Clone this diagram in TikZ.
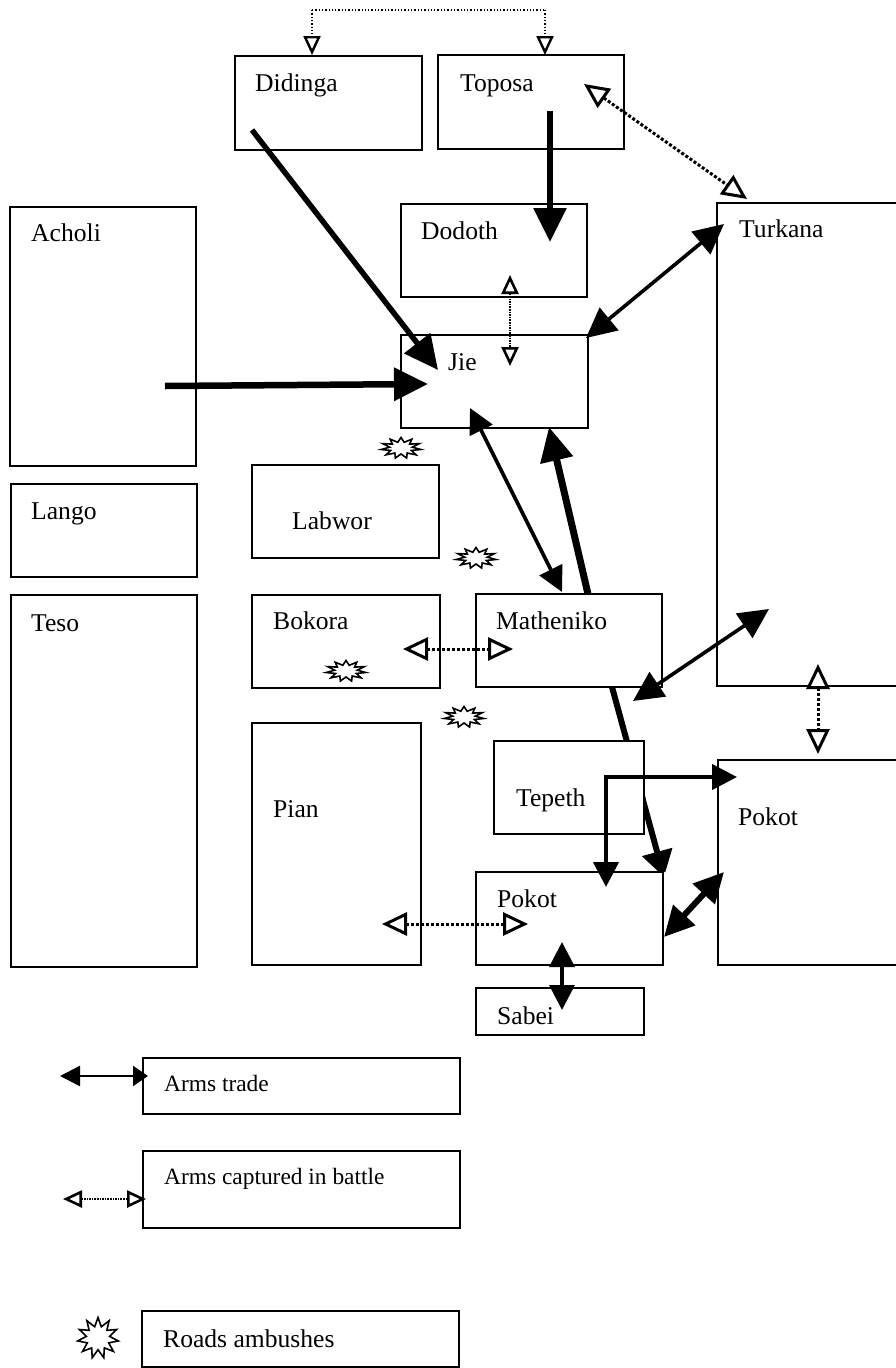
\documentclass[tikz,border=0pt]{standalone}
\usepackage{fontspec}
\setmainfont{Liberation Serif}
\usetikzlibrary{arrows.meta,shapes.geometric,calc}
\tikzset{
  boxn/.style={draw=black,fill=white,line width=1.8pt,rectangle,inner sep=0pt,outer sep=0pt,anchor=north west},
  lab/.style={anchor=base west,inner sep=0pt,font=\fontsize{25.6}{28}\selectfont},
  lablg/.style={anchor=base west,inner sep=0pt,font=\fontsize{23.4}{26}\selectfont},
  thicka/.style={line width=5.5pt,-{Triangle[length=34pt,width=32pt]}},
  tepethline/.style={line width=6pt,-{Triangle[length=26pt,width=30pt]}},
  trade/.style={line width=3.6pt,{Triangle[length=30pt,width=29pt]}-{Triangle[length=30pt,width=29pt]}},
  tradesm/.style={line width=3.6pt,{Triangle[length=25pt,width=25pt]}-{Triangle[length=25pt,width=25pt]}},
  capt/.style={line width=3pt,dotted,{Triangle[open,fill=white,length=25pt,width=23pt,line width=3pt]}-{Triangle[open,fill=white,length=25pt,width=23pt,line width=3pt]}},
  captthin/.style={line width=1.6pt,densely dotted,{Triangle[open,fill=white,length=19pt,width=17pt,line width=2.6pt]}-{Triangle[open,fill=white,length=19pt,width=17pt,line width=2.6pt]}},
  ambush/.style={star,star points=11,star point ratio=1.75,draw=black,fill=white,line width=1.6pt,minimum size=#1,inner sep=0pt,outer sep=0pt},
}
\newcommand\bx[5]{\node[boxn,minimum width=\fpeval{#4-#2}pt,minimum height=\fpeval{#5-#3}pt] (#1) at (#2,#3) {};}
\begin{document}
\begin{tikzpicture}[x=1pt,y=-1pt]
\clip (0,0) rectangle (896,1368);
\fill[white] (0,0) rectangle (896,1368);
% line hidden behind the Tepeth box
\coordinate (mt) at (612,687);
\coordinate (pt) at (664,877);
\draw[line width=6pt] (mt) -- ($(mt)!0.6!(pt)$);
% boxes
\bx{didinga}{235}{56}{422}{150}
\bx{toposa}{438}{55}{624}{149}
\bx{acholi}{10}{207}{196}{466}
\bx{dodoth}{401}{204}{587}{297}
\bx{turkana}{717}{203}{912}{686}
\bx{jie}{401}{335}{588}{428}
\bx{labwor}{252}{465}{439}{558}
\bx{lango}{11}{484}{197}{577}
\bx{teso}{11}{595}{197}{967}
\bx{bokora}{252}{595}{440}{688}
\bx{matheniko}{476}{594}{662}{687}
\bx{pian}{252}{723}{421}{965}
\bx{tepeth}{494}{741}{644}{834}
\bx{pokotr}{718}{760}{912}{965}
\bx{pokotl}{476}{872}{663}{965}
\bx{sabei}{476}{988}{644}{1035}
\bx{lgtrade}{143}{1058}{460}{1114}
\bx{lgcapt}{143}{1151}{460}{1228}
\bx{lgroad}{142}{1311}{459}{1367}
% the part of the line that leaves the Tepeth box
\begin{scope}
\clip (644.9,790) -- (700,790) -- (700,872) -- (630,872) -- (630,836) -- (644.9,836) -- cycle;
\draw[tepethline] (mt) -- (pt);
\end{scope}
% labels
\node[lab] (t1) at (255,91) {Didinga};
\node[lab] (t2) at (460,91) {Toposa};
\node[lab] (t3) at (31,241) {Acholi};
\node[lab] (t4) at (421,239) {Dodoth};
\node[lab] (t5) at (739,237) {Turkana};
\node[lab] (t6) at (448,370) {Jie};
\node[lab] (t7) at (292,529) {Labwor};
\node[lab] (t8) at (31,519) {Lango};
\node[lab] (t9) at (31,631) {Teso};
\node[lab] (t10) at (273,629) {Bokora};
\node[lab] (t11) at (496,629) {Matheniko};
\node[lab] (t12) at (273,817) {Pian};
\node[lab] (t13) at (516,806) {Tepeth};
\node[lab] (t14) at (738,825) {Pokot};
\node[lab] (t15) at (497,907) {Pokot};
\node[lab] (t16) at (497,1024) {Sabei};
\node[lablg] (t17) at (164,1091) {Arms trade};
\node[lablg] (t18) at (164,1184) {Arms captured in battle};
\node[lab] (t19) at (163,1347) {Roads ambushes};
% end points
\coordinate (a1) at (252,130); \coordinate (a2) at (438,370);
\coordinate (b1) at (550,111); \coordinate (b2) at (550,242);
\coordinate (c1) at (165,386); \coordinate (c2) at (428,384);
\coordinate (d1) at (724,224); \coordinate (d2) at (586,338);
\coordinate (e1) at (470,408); \coordinate (e2) at (562,592);
\coordinate (f1) at (588,594); \coordinate (f2) at (549,427);
\coordinate (g1) at (769,609); \coordinate (g2) at (633,701);
\coordinate (h1) at (606,887); \coordinate (h2) at (606,777); \coordinate (h3) at (737,777);
\coordinate (i1) at (664,937); \coordinate (i2) at (724,872);
\coordinate (j1) at (562,942); \coordinate (j2) at (562,1010);
\coordinate (k1) at (60,1076); \coordinate (k2) at (148,1076);
\coordinate (l1) at (312,55); \coordinate (l2) at (312,10); \coordinate (l3) at (545,10); \coordinate (l4) at (545,55);
\coordinate (m1) at (584,84); \coordinate (m2) at (747,199);
\coordinate (n1) at (510,275); \coordinate (n2) at (510,366);
\coordinate (o1) at (403,649); \coordinate (o2) at (513,649);
\coordinate (p1) at (818,664); \coordinate (p2) at (818,754);
\coordinate (q1) at (382,924); \coordinate (q2) at (528,924);
\coordinate (r1) at (63,1199); \coordinate (r2) at (146,1199);
% solid arrows
\draw[thicka] (a1) -- (a2);
\draw[thicka] (b1) -- (b2);
\draw[thicka,line width=6.5pt] (c1) -- (c2);
\draw[thicka,line width=7pt] (f1) -- (f2);
\draw[trade] (d1) -- (d2);
\draw[tradesm] (e1) -- (e2);
\draw[trade] (g1) -- (g2);
\draw[tradesm,line width=4.2pt] (h1) -- (h2) -- (h3);
\draw[trade,line width=6pt] (i1) -- (i2);
\draw[tradesm] (j1) -- (j2);
\draw[line width=2.4pt,{Triangle[length=20pt,width=20pt]}-{Triangle[length=15pt,width=20pt]}] (k1) -- (k2);
% dotted arrows
\draw[line width=1.3pt,dotted,-{Triangle[open,fill=white,length=19pt,width=17pt,line width=2.4pt]}] (l2) -- (l1);
\draw[line width=1.3pt,dotted] (l2) -- (l3);
\draw[line width=1.3pt,dotted,-{Triangle[open,fill=white,length=19pt,width=17pt,line width=2.4pt]}] (l3) -- (l4);
\draw[capt] (m1) -- (m2);
\draw[captthin] (n1) -- (n2);
\draw[capt] (o1) -- (o2);
\draw[capt] (p1) -- (p2);
\draw[capt] (q1) -- (q2);
\draw[captthin,line width=1.2pt] (r1) -- (r2);
% ambush marks
\begin{scope}[every node/.append style={transform shape}]
\node[ambush=38pt,xscale=1.05,yscale=.55] (s1) at (401,448) {};
\node[ambush=38pt,xscale=1.05,yscale=.55] (s2) at (476,558) {};
\node[ambush=38pt,xscale=1.05,yscale=.55] (s3) at (346,671) {};
\node[ambush=38pt,xscale=1.05,yscale=.55] (s4) at (464,717) {};
\node[ambush=41pt] (s5) at (98,1338) {};
\end{scope}
\end{tikzpicture}
\end{document}
